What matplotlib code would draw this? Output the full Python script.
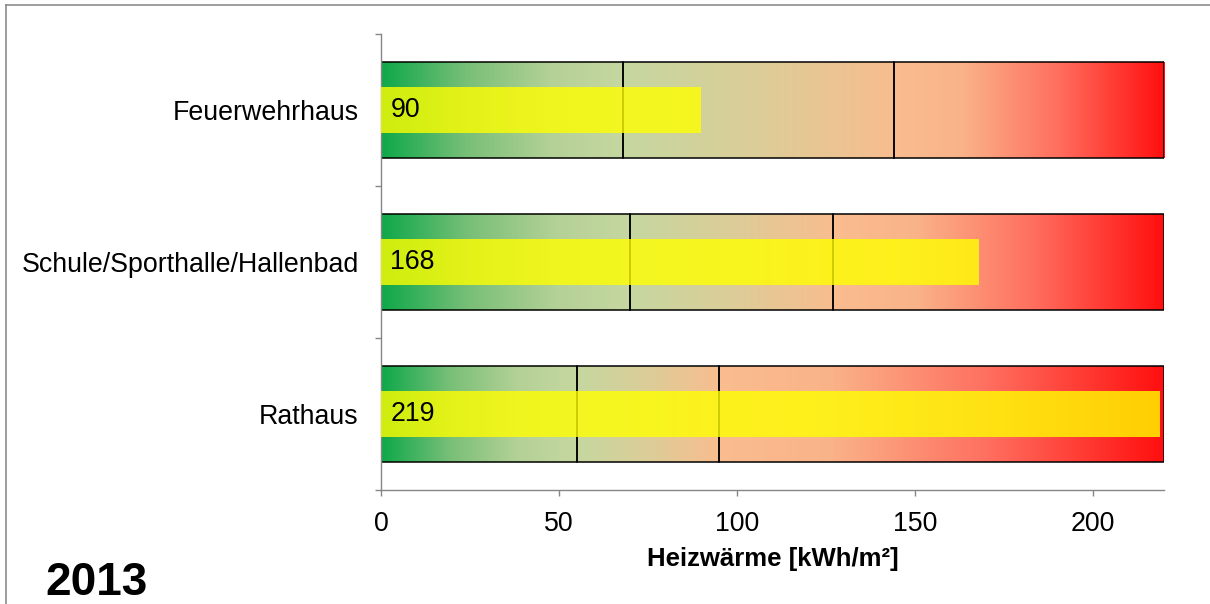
import numpy as np
import matplotlib.pyplot as plt
from matplotlib.colors import LinearSegmentedColormap
from matplotlib.patches import Rectangle
from matplotlib.lines import Line2D

# Daten (von unten nach oben)
gebaeude = ['Rathaus', 'Schule/Sporthalle/Hallenbad', 'Feuerwehrhaus']
heizwaerme = [219, 168, 90]
grenze_gut = [55, 70, 68]
grenze_mittel = [95, 127, 144]
x_max = 220
x_ticks = [0, 50, 100, 150, 200]
jahr = '2013'

plt.rcParams['font.family'] = ['Liberation Sans', 'DejaVu Sans']

W, H = 1210, 604
fig = plt.figure(figsize=(W / 100, H / 100), dpi=100)
ax = fig.add_axes([381 / W, 1 - 490 / H, (1164 - 381) / W, (490 - 34) / H])

# Farbverlaeufe je Bereich
verlaeufe = [
    LinearSegmentedColormap.from_list('gut', [(0, '#0ea849'), (0.35, '#78bf78'), (0.7, '#b4d197'), (1, '#c6d7a0')]),
    LinearSegmentedColormap.from_list('mittel', [(0, '#c6d7a0'), (0.5, '#dccd98'), (1, '#f8bd8f')]),
    LinearSegmentedColormap.from_list('schlecht', [(0, '#f9bd8f'), (0.25, '#fab389'), (0.6, '#ff7060'), (1, '#ff0f0f')]),
]
verlauf = np.linspace(0, 1, 256).reshape(1, -1)
h_hint = 0.63
h_bar = 0.30

for i in range(len(gebaeude)):
    grenzen = [0, grenze_gut[i], grenze_mittel[i], x_max]
    for k in range(3):
        ax.imshow(verlauf, cmap=verlaeufe[k], aspect='auto', interpolation='bilinear',
                  extent=(grenzen[k], grenzen[k + 1], i - h_hint / 2, i + h_hint / 2), zorder=1)
        ax.add_patch(Rectangle((grenzen[k], i - h_hint / 2), grenzen[k + 1] - grenzen[k], h_hint,
                               fill=False, ec='black', lw=1.1, zorder=2))
    ax.barh(i, heizwaerme[i], height=h_bar, color='#ffff00', alpha=0.8, lw=0, zorder=3)
    ax.text(2.6, i, str(heizwaerme[i]), ha='left', va='center', fontsize=19.3, zorder=4)

ax.set_xlim(0, x_max)
ax.set_ylim(-0.5, len(gebaeude) - 0.5)

grau = '#868686'
for s in ['top', 'right']:
    ax.spines[s].set_visible(False)
for s in ['left', 'bottom']:
    ax.spines[s].set_color(grau)
    ax.spines[s].set_linewidth(1.0)

ax.set_xticks(x_ticks)
ax.tick_params(axis='x', direction='out', length=4.5, width=1.0, color=grau, pad=10.5, labelsize=19.3)
ax.set_yticks(np.arange(-0.5, len(gebaeude), 1.0))
ax.set_yticklabels([])
ax.tick_params(axis='y', which='major', direction='out', length=4.5, width=1.0, color=grau)
ax.set_yticks(range(len(gebaeude)), minor=True)
ax.set_yticklabels(gebaeude, minor=True)
ax.tick_params(axis='y', which='minor', length=0, pad=16, labelsize=19.3)

ax.set_xlabel('Heizwärme [kWh/m²]', fontsize=18.5, fontweight='bold', labelpad=7)

fig.text(45 / W, 1 - 595 / H, jahr, fontsize=33, fontweight='bold', va='baseline', ha='left')

# Rahmen des Diagrammbereichs
fig.add_artist(Line2D([5.5 / W, 5.5 / W], [0, 1 - 4.5 / H], transform=fig.transFigure, color='#8c8c8c', lw=1.2))
fig.add_artist(Line2D([5.5 / W, 1], [1 - 4.5 / H, 1 - 4.5 / H], transform=fig.transFigure, color='#8c8c8c', lw=1.2))

fig.savefig('out.png', dpi=100)
